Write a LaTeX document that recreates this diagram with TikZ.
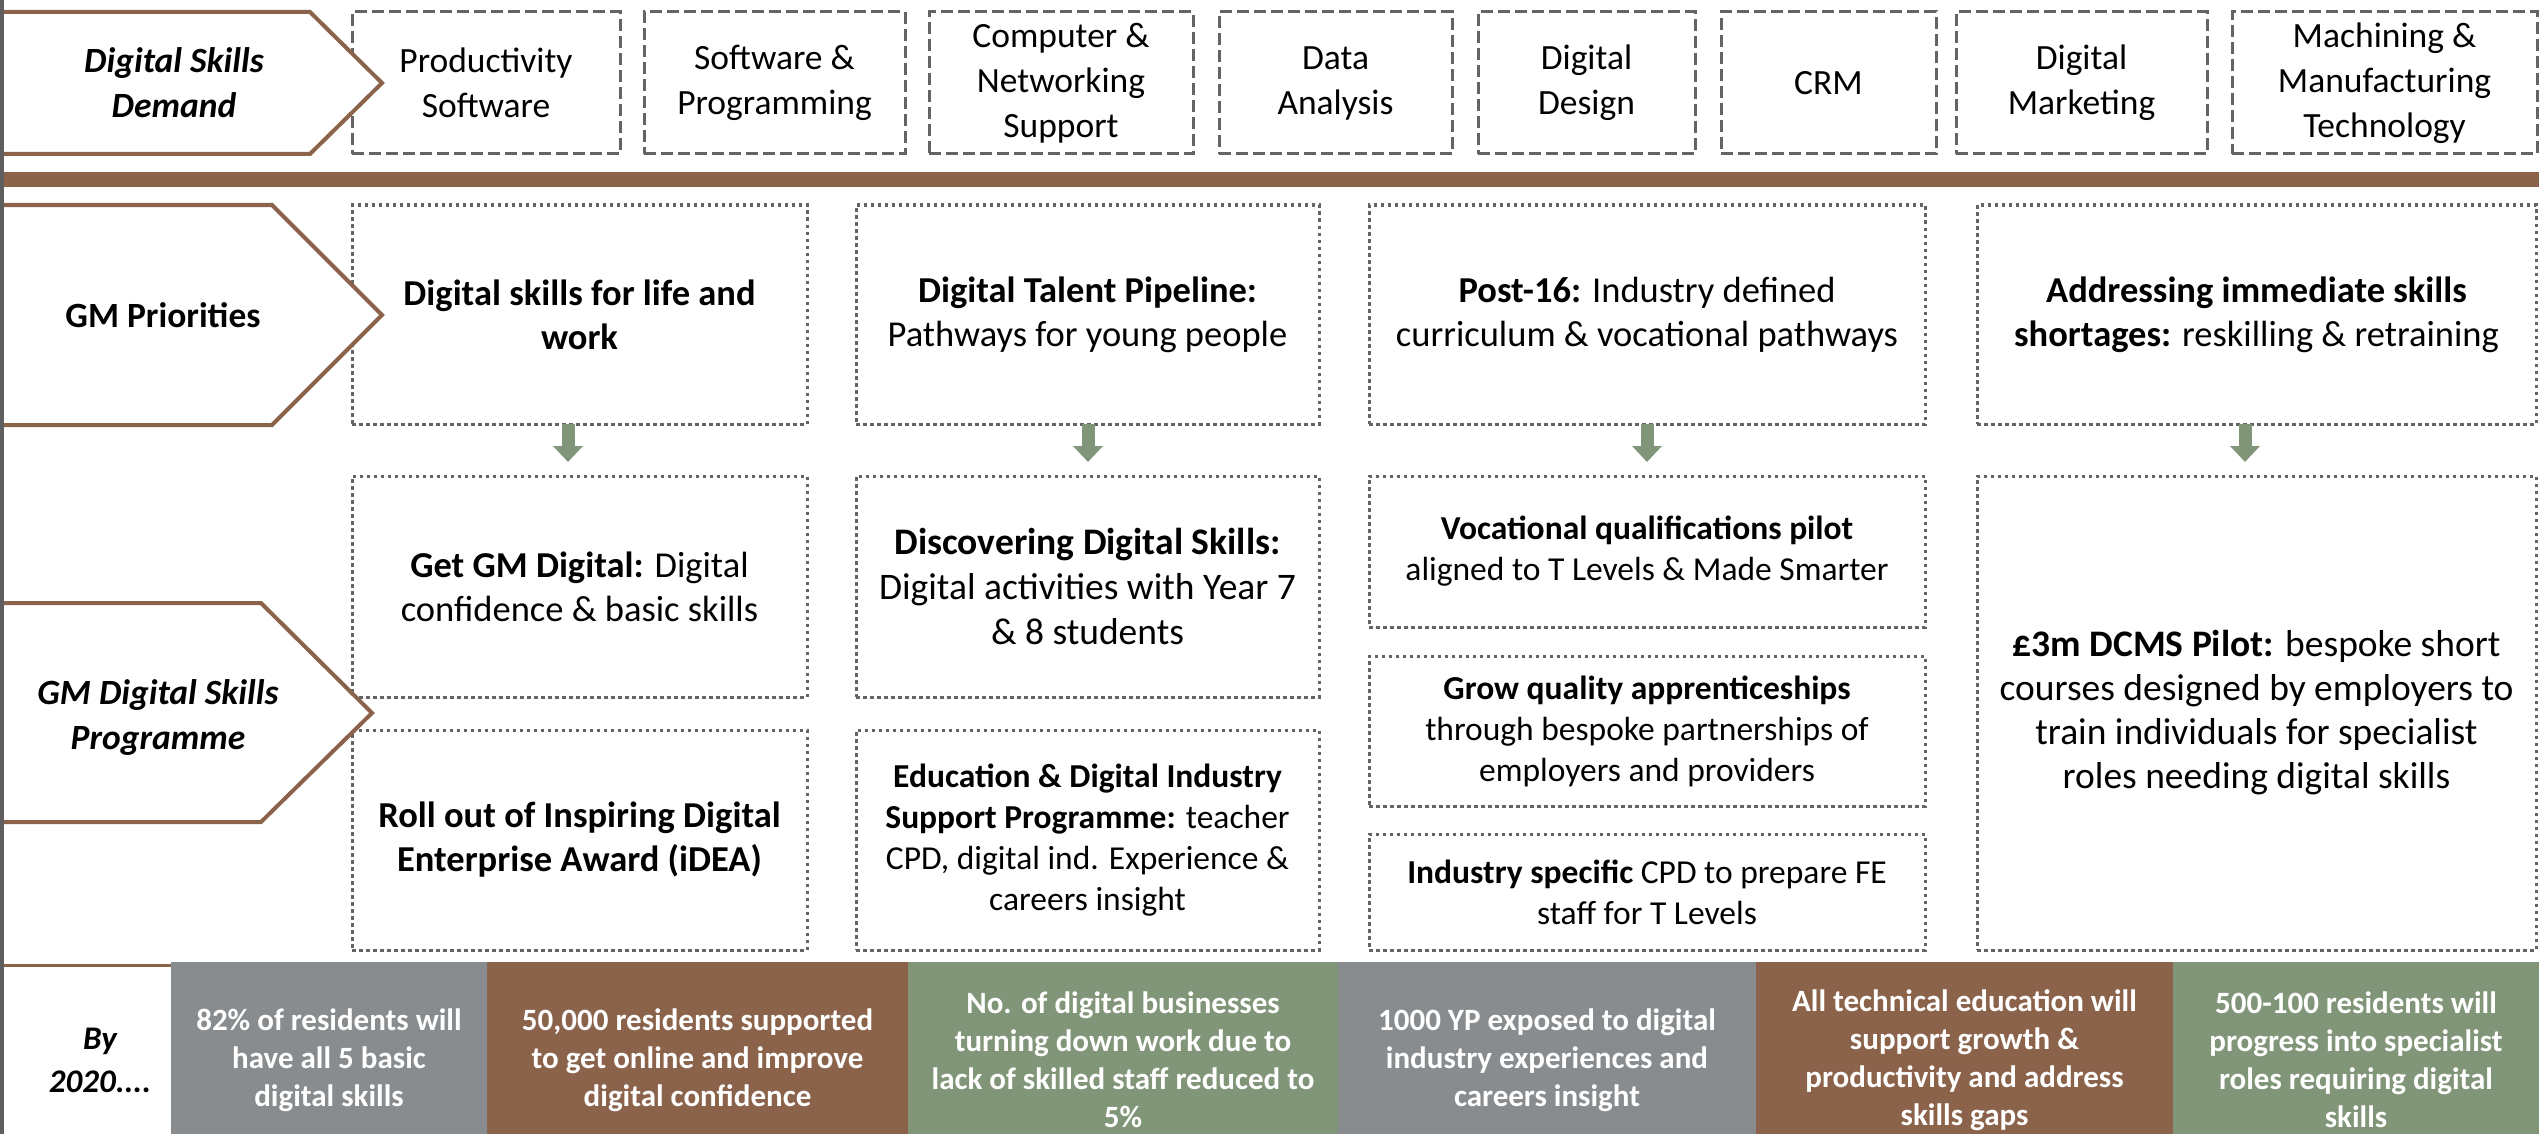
\documentclass[tikz,border=0pt]{standalone}
\usepackage{fontspec}
\setmainfont{Carlito}
\usetikzlibrary{arrows.meta,calc}
\definecolor{brn}{RGB}{139,99,75}
\definecolor{grn}{RGB}{129,149,120}
\definecolor{gry}{RGB}{137,140,142}
\definecolor{dgray}{RGB}{100,100,100}
\definecolor{barg}{RGB}{95,95,95}
\tikzset{
  topbox/.style={draw=dgray, line width=3pt, dash pattern=on 12pt off 5pt, inner sep=0pt, outer sep=0pt, align=center, font=\fontsize{35.5}{45}\selectfont, minimum height=142pt},
  midbox/.style={draw=dgray, line width=3pt, dash pattern=on 3.5pt off 3.5pt, inner sep=0pt, outer sep=0pt, align=center, font=\fontsize{36.5}{44}\selectfont},
  smallbox/.style={midbox, font=\fontsize{33.5}{41}\selectfont},
  botbox/.style={draw=none, inner sep=0pt, outer sep=0pt, align=center, text=white, font=\bfseries\fontsize{31}{38}\selectfont, minimum height=196pt},
  chev/.style={draw=brn, fill=white, line width=4pt, line join=miter},
  chevtext/.style={align=center, font=\bfseries\fontsize{35.5}{45}\selectfont},
  blockarrow/.style={draw=grn, line width=13pt, -{Triangle[width=29pt,length=16pt]}},
}
\begin{document}
\begin{tikzpicture}[x=1pt,y=-1pt]
\useasboundingbox (0,0) rectangle (2539,1134);
% brown separators
\fill[brn] (3,172) rectangle (2539,187);
\draw[brn, line width=3pt] (3,965) -- (171,965);
% top demand boxes
\node[topbox, minimum width=268pt] (d1) at (486,83) {Productivity\\Software};
\node[topbox, minimum width=261pt] (d2) at (774.5,83) {Software \&\\Programming};
\node[topbox, minimum width=264pt] (d3) at (1061,83) {Computer \&\\Networking\\Support};
\node[topbox, minimum width=233pt] (d4) at (1335.5,83) {Data\\Analysis};
\node[topbox, minimum width=217pt] (d5) at (1586.5,83) {Digital\\Design};
\node[topbox, minimum width=215pt] (d6) at (1828.5,83) {CRM};
\node[topbox, minimum width=251pt] (d7) at (2081.5,83) {Digital\\Marketing};
\node[topbox, minimum width=305pt] (d8) at (2384.5,83) {Machining \&\\Manufacturing\\Technology};
% priorities
\node[midbox, minimum width=455pt, minimum height=219pt] (p1) at (579.5,314.5) {\textbf{Digital skills for life and}\\\textbf{work}};
\node[midbox, minimum width=463pt, minimum height=219pt] (p2) at (1087.5,314.5) {\textbf{Digital Talent Pipeline:}\\Pathways for young people};
\node[midbox, minimum width=556pt, minimum height=219pt] (p3) at (1647,314.5) {\textbf{Post-16:} Industry defined\\curriculum \& vocational pathways};
\node[midbox, minimum width=559pt, minimum height=219pt] (p4) at (2256.5,314.5) {\textbf{Addressing immediate skills}\\\textbf{shortages:} reskilling \& retraining};
% programme
\node[midbox, minimum width=455pt, minimum height=221pt] (g1) at (579.5,586.5) {\textbf{Get GM Digital:} Digital\\confidence \& basic skills};
\node[midbox, minimum width=455pt, minimum height=220pt] (g2) at (579.5,840) {\textbf{Roll out of Inspiring Digital}\\\textbf{Enterprise Award (iDEA)}};
\node[midbox, font=\fontsize{37.5}{45}\selectfont, minimum width=463pt, minimum height=221pt] (t1) at (1087.5,586.5) {\textbf{Discovering Digital Skills:}\\Digital activities with Year 7\\\& 8 students};
\node[smallbox, minimum width=463pt, minimum height=220pt] (t2) at (1087.5,840) {\textbf{Education \& Digital Industry}\\\textbf{Support Programme:} teacher\\CPD, digital ind. Experience \&\\careers insight};
\node[smallbox, minimum width=556pt, minimum height=151pt] (v1) at (1647,551.5) {\textbf{Vocational qualifications pilot}\\aligned to T Levels \& Made Smarter};
\node[smallbox, minimum width=556pt, minimum height=150pt] (v2) at (1647,731) {\textbf{Grow quality apprenticeships}\\through bespoke partnerships of\\employers and providers};
\node[smallbox, minimum width=556pt, minimum height=116pt] (v3) at (1647,892) {\textbf{Industry specific} CPD to prepare FE\\staff for T Levels};
\node[midbox, font=\fontsize{37.5}{44}\selectfont, minimum width=559pt, minimum height=474pt] (s1) at (2256.5,713) {\textbf{£3m DCMS Pilot:} bespoke short\\courses designed by employers to\\train individuals for specialist\\roles needing digital skills};
% arrows
\coordinate (a1) at (568,462);
\coordinate (a2) at (1088,462);
\coordinate (a3) at (1647,462);
\coordinate (a4) at (2245,462);
\draw[blockarrow] (a1 |- p1.south) -- (a1);
\draw[blockarrow] (a2 |- p2.south) -- (a2);
\draw[blockarrow] (a3 |- p3.south) -- (a3);
\draw[blockarrow] (a4 |- p4.south) -- (a4);
% bottom targets
\node[botbox, fill=gry, minimum width=316pt] (b1) at (329,1060) {82\% of residents will\\have all 5 basic\\digital skills};
\node[botbox, fill=brn, minimum width=421pt] (b2) at (697.5,1060) {50,000 residents supported\\to get online and improve\\digital confidence};
\node[botbox, fill=grn, minimum width=430pt] (b3) at (1123,1060) {No. of digital businesses\\turning down work due to\\lack of skilled staff reduced to\\5\%};
\node[botbox, fill=gry, minimum width=418pt] (b4) at (1547,1060) {1000 YP exposed to digital\\industry experiences and\\careers insight};
\node[botbox, fill=brn, minimum width=417pt] (b5) at (1964.5,1060) {All technical education will\\support growth \&\\productivity and address\\skills gaps};
\node[botbox, fill=grn, minimum width=366pt] (b6) at (2356,1060) {500-100 residents will\\progress into specialist\\roles requiring digital\\skills};
% chevrons
\draw[chev] (3,12) -- (310,12) -- (382,83) -- (310,154) -- (3,154);
\draw[chev] (3,205) -- (272,205) -- (382,315) -- (272,425) -- (3,425);
\draw[chev] (3,603) -- (261,603) -- (372,713) -- (261,822) -- (3,822);
\node[chevtext, font=\bfseries\itshape\fontsize{35.5}{45}\selectfont] (l1) at (174,83) {Digital Skills\\Demand};
\node[chevtext] (l2) at (163,315) {GM Priorities};
\node[chevtext, font=\bfseries\itshape\fontsize{35.5}{45}\selectfont] (l3) at (158,718) {GM Digital Skills\\Programme};
\node[chevtext, font=\bfseries\itshape\fontsize{33}{43}\selectfont] (l4) at (100,1060) {By\\2020....};
% left bar
\fill[barg] (0,0) rectangle (4,1134);
\end{tikzpicture}
\end{document}
